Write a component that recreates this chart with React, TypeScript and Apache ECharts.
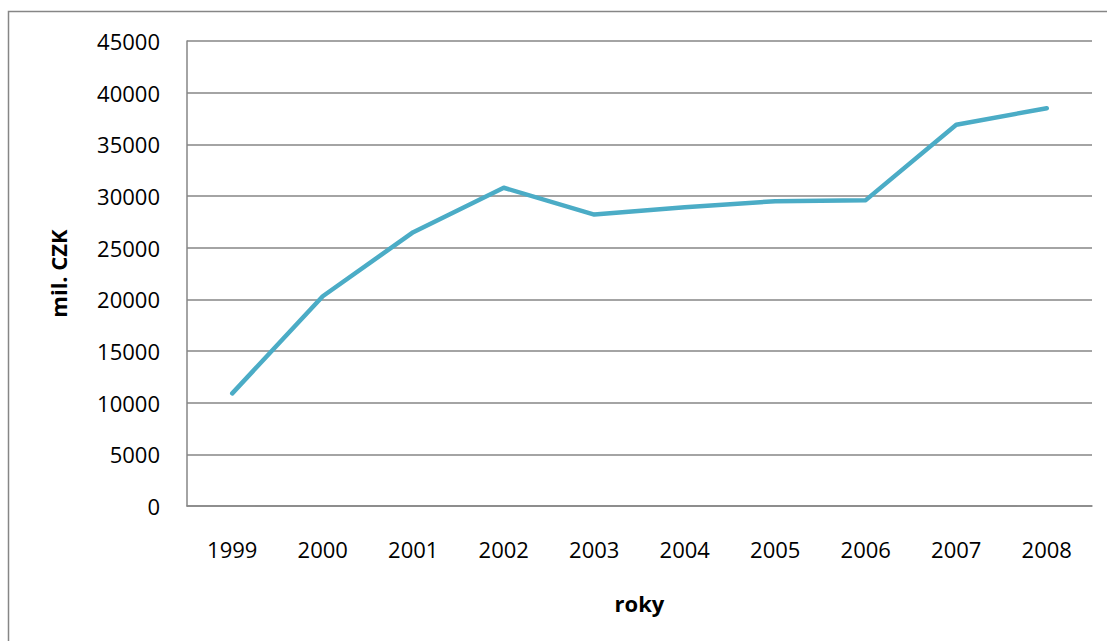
import React, { useEffect, useRef } from "react";
import * as echarts from "echarts";

// Years on the category axis
const years = ["1999", "2000", "2001", "2002", "2003", "2004", "2005", "2006", "2007", "2008"];
// Values in millions of CZK
const values = [10900, 20300, 26500, 30800, 28200, 28900, 29500, 29600, 36900, 38500];

const FONT = "'Open Sans', 'Noto Sans', sans-serif";
const GRAY = "#868686";

export default function App() {
  const ref = useRef<HTMLDivElement>(null);

  useEffect(() => {
    if (!ref.current) return;
    const chart = echarts.init(ref.current, undefined, { renderer: "svg" });
    chart.setOption({
      animation: false,
      backgroundColor: "#ffffff",
      graphic: [
        {
          type: "rect",
          shape: { x: 8.5, y: 11.5, width: 1200, height: 800 },
          style: { fill: "none", stroke: GRAY, lineWidth: 1.5 },
          silent: true,
        },
      ],
      grid: { left: 187, right: 15, top: 41, bottom: 135 },
      xAxis: {
        type: "category",
        data: years,
        boundaryGap: true,
        name: "roky",
        nameLocation: "middle",
        nameGap: 86,
        nameTextStyle: { fontFamily: FONT, fontSize: 22, fontWeight: "bold", color: "#000" },
        axisLine: { show: true, lineStyle: { color: GRAY, width: 1.5 } },
        axisTick: { show: false },
        axisLabel: { margin: 32, fontFamily: FONT, fontSize: 22, color: "#000" },
      },
      yAxis: {
        type: "value",
        min: 0,
        max: 45000,
        interval: 5000,
        name: "mil. CZK",
        nameLocation: "middle",
        nameRotate: 90,
        nameGap: 118,
        nameTextStyle: { fontFamily: FONT, fontSize: 22, fontWeight: "bold", color: "#000" },
        axisLine: { show: true, lineStyle: { color: GRAY, width: 1.5 } },
        axisTick: { show: false },
        axisLabel: {
          margin: 27,
          fontFamily: FONT,
          fontSize: 22,
          color: "#000",
          formatter: (v: number) => String(v),
        },
        splitLine: { show: true, lineStyle: { color: GRAY, width: 1.5 } },
      },
      series: [
        {
          type: "line",
          data: values,
          symbol: "none",
          smooth: false,
          lineStyle: { color: "#4BACC6", width: 4.5, cap: "round", join: "round" },
        },
      ],
    });
    return () => chart.dispose();
  }, []);

  return (
    <div
      ref={ref}
      style={{ position: "absolute", left: 0, top: 0, width: 1107, height: 641 }}
    />
  );
}
